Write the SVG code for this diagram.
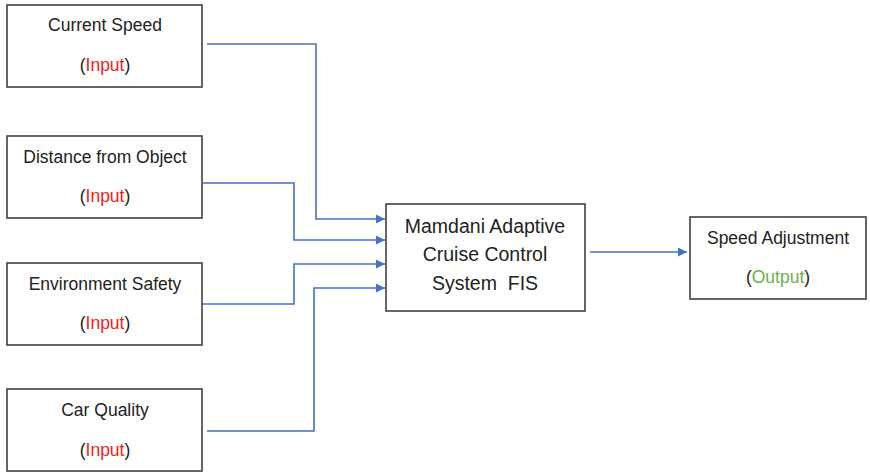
<svg xmlns="http://www.w3.org/2000/svg" width="870" height="473" viewBox="0 0 870 473">
<defs>
<style>
.box{fill:#fff;stroke:#404040;stroke-width:1.6}
.t{font-family:"Liberation Sans",Arial,sans-serif;font-size:17.5px;fill:#222;text-anchor:middle}
.big{font-size:19.5px}
.in{fill:#f02020}
.out{fill:#6ab04c}
.c{fill:none;stroke:#4472c4;stroke-width:1.6}
</style>
<marker id="ah" viewBox="0 0 10 10" refX="10" refY="5" markerWidth="9" markerHeight="9" markerUnits="userSpaceOnUse" orient="auto">
<path d="M0,0 L10,5 L0,10 z" fill="#4472c4"/>
</marker>
</defs>
<rect width="870" height="473" fill="#fff"/>
<g id="n1"><rect class="box" x="7" y="5" width="195" height="82"/>
<text class="t" x="105" y="31">Current Speed</text>
<text class="t" x="105" y="71">(<tspan class="in">Input</tspan>)</text></g>
<g id="n2"><rect class="box" x="7" y="136" width="195" height="82"/>
<text class="t" x="105" y="163">Distance from Object</text>
<text class="t" x="105" y="202">(<tspan class="in">Input</tspan>)</text></g>
<g id="n3"><rect class="box" x="7" y="263" width="195" height="82"/>
<text class="t" x="105" y="290">Environment Safety</text>
<text class="t" x="105" y="329">(<tspan class="in">Input</tspan>)</text></g>
<g id="n4"><rect class="box" x="7" y="389" width="195" height="82"/>
<text class="t" x="105" y="416">Car Quality</text>
<text class="t" x="105" y="456">(<tspan class="in">Input</tspan>)</text></g>
<g id="fis"><rect class="box" x="386" y="204" width="199" height="107"/>
<text class="t big" x="485" y="233">Mamdani Adaptive</text>
<text class="t big" x="485" y="261">Cruise Control</text>
<text class="t big" x="485" y="290" xml:space="preserve">System  FIS</text></g>
<g id="out"><rect class="box" x="690" y="217" width="176" height="82"/>
<text class="t" x="778" y="244">Speed Adjustment</text>
<text class="t" x="778" y="283">(<tspan class="out">Output</tspan>)</text></g>
<g id="connectors">
<path class="c" d="M207,44 H316 V219 H385" marker-end="url(#ah)"/>
<path class="c" d="M203,183 H294 V240 H385" marker-end="url(#ah)"/>
<path class="c" d="M203,304 H294 V264 H385" marker-end="url(#ah)"/>
<path class="c" d="M207,431 H314 V288 H385" marker-end="url(#ah)"/>
<path class="c" d="M590,252 H687" marker-end="url(#ah)"/>
</g>
</svg>
